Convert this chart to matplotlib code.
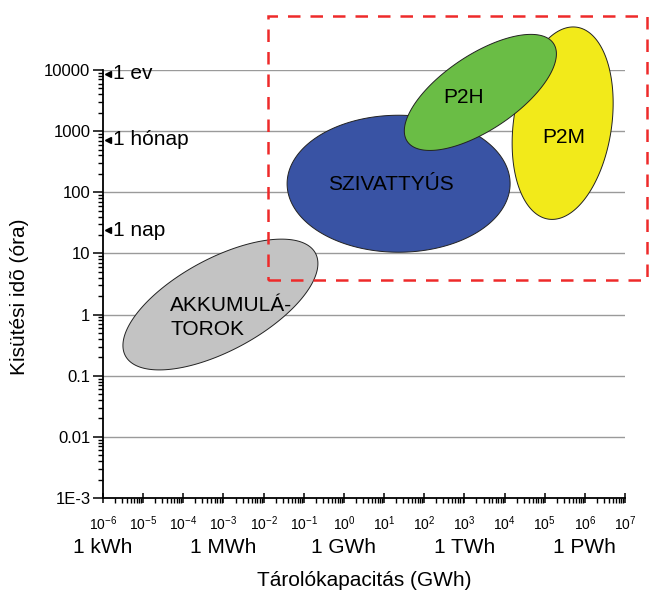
"""Energiatárolási technológiák: tárolókapacitás és kisütési idő (log-log)."""

import numpy as np
import matplotlib
matplotlib.use("Agg")
import matplotlib.pyplot as plt
from matplotlib.patches import Rectangle

plt.rcParams["font.family"] = ["Liberation Sans", "DejaVu Sans"]
plt.rcParams["mathtext.fontset"] = "custom"
plt.rcParams["mathtext.rm"] = "Liberation Sans"
plt.rcParams["mathtext.it"] = "Liberation Sans:italic"

# technológiák: középpont (GWh, óra)
tech_names = ["AKKUMULÁ-\nTOROK", "SZIVATTYÚS", "P2M", "P2H"]
center_gwh = [8.4e-4, 23.0, 2.8e5, 2.5e3]
center_hours = [1.46, 138.0, 1350.0, 4300.0]
tech_colors = ["#c3c3c3", "#3953a4", "#f2ea1a", "#6abd45"]
# fél-tengelyek pixelben, elforgatás fokban
semi_major = [108, 111.5, 97, 88]
semi_minor = [46, 68.5, 49, 37.5]
tilt_deg = [28.4, 0.0, 81.6, 33.8]

label_gwh = [4.7e-5, 15.0, 3.0e5, 940.0]
label_hours = [0.9, 135.0, 800.0, 3500.0]

# nevezetes időtartamok
period_names = ["1 ev", "1 hónap", "1 nap"]
period_hours = [8760, 720, 24]

# egység-feliratok
unit_names = ["1 kWh", "1 MWh", "1 GWh", "1 TWh", "1 PWh"]
unit_gwh = [1e-6, 1e-3, 1e0, 1e3, 1e6]

x_exps = list(range(-6, 8))
y_ticks = [1e-3, 1e-2, 1e-1, 1, 10, 100, 1000, 10000]
y_ticklabels = ["1E-3", "0.01", "0.1", "1", "10", "100", "1000", "10000"]


def ellipse_in_data(ax, cx, cy, a, b, angle):
    """Ellipszis a képernyő-koordinátákban, visszaalakítva adat-koordinátákba."""
    c = ax.transData.transform((cx, cy))
    t = np.linspace(0, 2 * np.pi, 300)
    th = np.deg2rad(angle)
    px = c[0] + a * np.cos(t) * np.cos(th) - b * np.sin(t) * np.sin(th)
    py = c[1] + a * np.cos(t) * np.sin(th) + b * np.sin(t) * np.cos(th)
    pts = ax.transData.inverted().transform(np.column_stack([px, py]))
    return pts[:, 0], pts[:, 1]


fig = plt.figure(figsize=(6.49, 5.93), dpi=100)
ax = fig.add_axes([103 / 649, 1 - 498 / 593, 522 / 649, 428 / 593])
ax.set_xscale("log")
ax.set_yscale("log")
ax.set_xlim(1e-6, 1e7)
ax.set_ylim(1e-3, 1e4)

for side in ["top", "right"]:
    ax.spines[side].set_visible(False)
for side in ["left", "bottom"]:
    ax.spines[side].set_linewidth(1.3)

ax.set_xticks([10.0 ** e for e in x_exps])
ax.set_xticklabels([rf"$\mathregular{{10^{{{e}}}}}$" for e in x_exps], fontsize=10)
ax.set_yticks(y_ticks)
ax.set_yticklabels(y_ticklabels, fontsize=12)
ax.xaxis.set_minor_locator(matplotlib.ticker.LogLocator(base=10, subs=np.arange(2, 10), numticks=30))
ax.yaxis.set_minor_locator(matplotlib.ticker.LogLocator(base=10, subs=np.arange(2, 10), numticks=30))
ax.xaxis.set_minor_formatter(matplotlib.ticker.NullFormatter())
ax.yaxis.set_minor_formatter(matplotlib.ticker.NullFormatter())
ax.tick_params(axis="x", which="major", direction="inout", length=7, width=1.1, pad=8)
ax.tick_params(axis="x", which="minor", direction="out", length=3.5, width=1)
ax.tick_params(axis="y", which="major", direction="out", length=7, width=1.1, pad=2)
ax.tick_params(axis="y", which="minor", direction="out", length=3.5, width=1)

for yv in y_ticks[1:]:
    ax.axhline(yv, color="#9a9a9a", lw=1.0, zorder=0)

fig.canvas.draw()
for i in range(len(tech_names)):
    ex, ey = ellipse_in_data(ax, center_gwh[i], center_hours[i],
                             semi_major[i], semi_minor[i], tilt_deg[i])
    ax.fill(ex, ey, facecolor=tech_colors[i], edgecolor="#222222",
            lw=0.7, zorder=2 + i, clip_on=False)

for i, name in enumerate(tech_names):
    ha = "left" if i == 0 else "center"
    ax.text(label_gwh[i], label_hours[i], name, fontsize=15, ha=ha, va="center",
            linespacing=1.3, zorder=10)

for name, h in zip(period_names, period_hours):
    ax.plot([1.3e-6], [h], marker="<", color="black", markersize=4, clip_on=False, zorder=10)
    ax.text(1.75e-6, h, name, fontsize=15, va="center", ha="left", zorder=10)

for name, xv in zip(unit_names, unit_gwh):
    ax.text(xv, -0.115, name, transform=ax.get_xaxis_transform(), fontsize=15,
            ha="center", va="center")

ax.text(0.5, -0.193, "Tárolókapacitás (GWh)", transform=ax.transAxes,
        fontsize=15, ha="center", va="center")
ax.text(20 / 649, 0.5, "Kisütési idõ (óra)", transform=fig.transFigure,
        fontsize=15, rotation=90, ha="center", va="center")

# kiemelő szaggatott keret
rect = Rectangle((268 / 649, 1 - 280 / 593), (647 - 268) / 649, (280 - 16) / 593,
                 transform=fig.transFigure, fill=False, edgecolor="#ee2a2a",
                 lw=1.8, ls=(0, (5, 4)), zorder=20)
fig.patches.append(rect)

fig.savefig("out.png", dpi=100)
